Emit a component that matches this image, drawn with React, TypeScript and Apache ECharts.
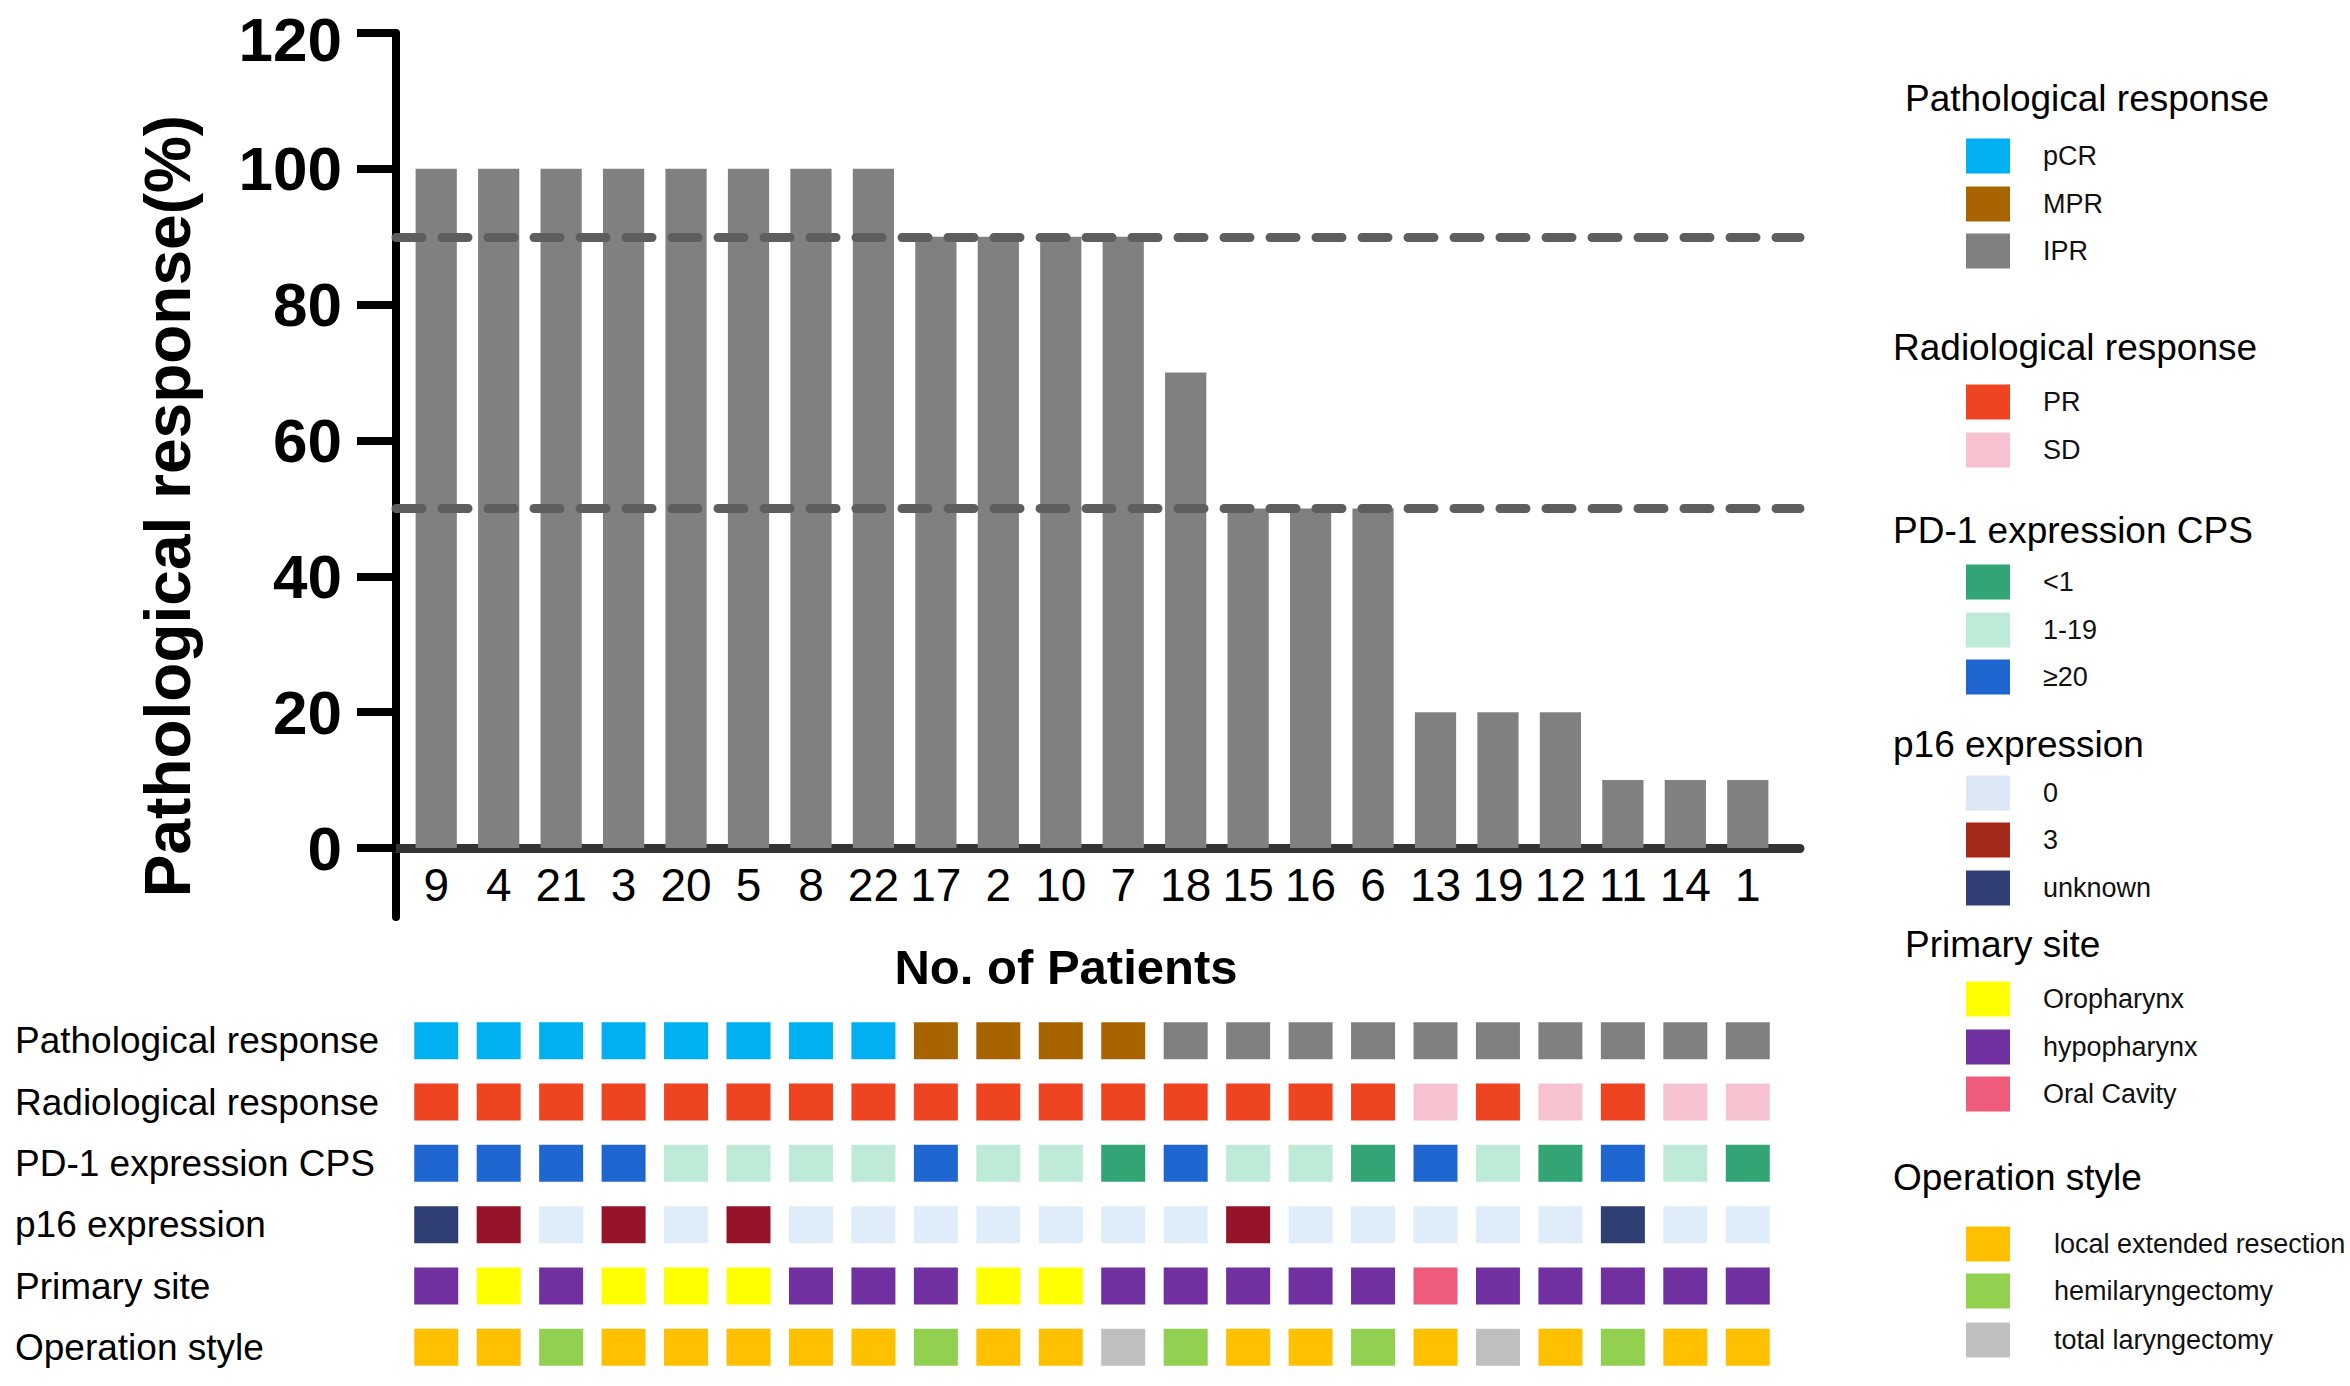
import React, { useEffect, useRef } from "react";
import * as echarts from "echarts";

// ---------- DATA ----------
const patients = ["9", "4", "21", "3", "20", "5", "8", "22", "17", "2", "10", "7", "18", "15", "16", "6", "13", "19", "12", "11", "14", "1"];
const responsePct = [100, 100, 100, 100, 100, 100, 100, 100, 90, 90, 90, 90, 70, 50, 50, 50, 20, 20, 20, 10, 10, 10];
const yAxisMin = 0;
const yAxisMax = 120;
const yAxisInterval = 20;
const thresholdLines = [90, 50];

const annotationRows = [
  "Pathological response",
  "Radiological response",
  "PD-1 expression CPS",
  "p16 expression",
  "Primary site",
  "Operation style",
];

const pathologicalResponse = ["pCR", "pCR", "pCR", "pCR", "pCR", "pCR", "pCR", "pCR", "MPR", "MPR", "MPR", "MPR", "IPR", "IPR", "IPR", "IPR", "IPR", "IPR", "IPR", "IPR", "IPR", "IPR"];
const radiologicalResponse = ["PR", "PR", "PR", "PR", "PR", "PR", "PR", "PR", "PR", "PR", "PR", "PR", "PR", "PR", "PR", "PR", "SD", "PR", "SD", "PR", "SD", "SD"];
const pd1CPS = ["≥20", "≥20", "≥20", "≥20", "1-19", "1-19", "1-19", "1-19", "≥20", "1-19", "1-19", "<1", "≥20", "1-19", "1-19", "<1", "≥20", "1-19", "<1", "≥20", "1-19", "<1"];
const p16Expression = ["unknown", "3", "0", "3", "0", "3", "0", "0", "0", "0", "0", "0", "0", "3", "0", "0", "0", "0", "0", "unknown", "0", "0"];
const primarySite = ["hypopharynx", "Oropharynx", "hypopharynx", "Oropharynx", "Oropharynx", "Oropharynx", "hypopharynx", "hypopharynx", "hypopharynx", "Oropharynx", "Oropharynx", "hypopharynx", "hypopharynx", "hypopharynx", "hypopharynx", "hypopharynx", "Oral Cavity", "hypopharynx", "hypopharynx", "hypopharynx", "hypopharynx", "hypopharynx"];
const operationStyle = ["local extended resection", "local extended resection", "hemilaryngectomy", "local extended resection", "local extended resection", "local extended resection", "local extended resection", "local extended resection", "hemilaryngectomy", "local extended resection", "local extended resection", "total laryngectomy", "hemilaryngectomy", "local extended resection", "local extended resection", "hemilaryngectomy", "local extended resection", "total laryngectomy", "local extended resection", "hemilaryngectomy", "local extended resection", "local extended resection"];

const pathologicalLevels = ["pCR", "MPR", "IPR"];
const radiologicalLevels = ["PR", "SD"];
const pd1Levels = ["<1", "1-19", "≥20"];
const p16Levels = ["0", "3", "unknown"];
const primaryLevels = ["Oropharynx", "hypopharynx", "Oral Cavity"];
const operationLevels = ["local extended resection", "hemilaryngectomy", "total laryngectomy"];

// ---------- STYLE ----------
const pathologicalColors: Record<string, string> = { pCR: "#00B0F0", MPR: "#A86400", IPR: "#808080" };
const radiologicalColors: Record<string, string> = { PR: "#EE4422", SD: "#F7C2CF" };
const pd1Colors: Record<string, string> = { "<1": "#33A474", "1-19": "#BDEBD8", "≥20": "#1F66D1" };
const p16Colors: Record<string, string> = { "0": "#DEEDF9", "3": "#95142A", unknown: "#2F3F74" };
const p16LegendColors: Record<string, string> = { "0": "#DDE7F6", "3": "#A3291B", unknown: "#2F3F74" };
const primaryColors: Record<string, string> = { Oropharynx: "#FFFF00", hypopharynx: "#7030A0", "Oral Cavity": "#EF5B7A" };
const operationColors: Record<string, string> = { "local extended resection": "#FFC000", hemilaryngectomy: "#92D050", "total laryngectomy": "#BFBFBF" };

const FONT = "'Liberation Sans', Arial, Helvetica, sans-serif";

// layout (px)
const W = 2350;
const H = 1386;
const plotLeft = 405;
const plotWidth = 1374;
const plotTop = 33;
const plotHeight = 815;
const yAxisLineX = 396;
const axisRightEnd = 1800;
const yAxisExtendBelow = 69;
const annotTop = 1010;
const annotHeight = 368;
const yTickFont = 62;

const legendLayout = [
  { title: "Pathological response", levels: pathologicalLevels, colors: pathologicalColors, titleX: 1905, titleY: 98, ys: [156, 204, 251], textX: 2043 },
  { title: "Radiological response", levels: radiologicalLevels, colors: radiologicalColors, titleX: 1893, titleY: 347, ys: [402, 450], textX: 2043 },
  { title: "PD-1 expression CPS", levels: pd1Levels, colors: pd1Colors, titleX: 1893, titleY: 530, ys: [582, 630, 677], textX: 2043 },
  { title: "p16 expression", levels: p16Levels, colors: p16LegendColors, titleX: 1893, titleY: 744, ys: [793, 840, 888], textX: 2043 },
  { title: "Primary site", levels: primaryLevels, colors: primaryColors, titleX: 1905, titleY: 944, ys: [999, 1047, 1094], textX: 2043 },
  { title: "Operation style", levels: operationLevels, colors: operationColors, titleX: 1893, titleY: 1177, ys: [1244, 1291, 1340], textX: 2054 },
];

function buildOption() {
  const rowValues = [pathologicalResponse, radiologicalResponse, pd1CPS, p16Expression, primarySite, operationStyle];
  const rowColors = [pathologicalColors, radiologicalColors, pd1Colors, p16Colors, primaryColors, operationColors];
  const cellData: any[] = [];
  rowValues.forEach((row, r) => {
    row.forEach((cat, i) => {
      cellData.push({ name: cat, value: [i, r], itemStyle: { color: rowColors[r][cat], opacity: 1 } });
    });
  });

  const pxPerUnit = plotHeight / (yAxisMax - yAxisMin);
  const extMin = -yAxisExtendBelow / pxPerUnit;

  const graphics: any[] = [];
  legendLayout.forEach((g) => {
    graphics.push({
      type: "text",
      x: g.titleX,
      y: g.titleY,
      style: { text: g.title, fontSize: 37, fontFamily: FONT, fill: "#000", align: "left", verticalAlign: "middle", textAlign: "left", textVerticalAlign: "middle" },
    });
    g.levels.forEach((lv, k) => {
      graphics.push({
        type: "rect",
        shape: { x: 1966, y: g.ys[k] - 17.5, width: 44, height: 35 },
        style: { fill: g.colors[lv] },
      });
      graphics.push({
        type: "text",
        x: g.textX,
        y: g.ys[k],
        style: { text: lv, fontSize: 27, fontFamily: FONT, fill: "#111", align: "left", verticalAlign: "middle", textAlign: "left", textVerticalAlign: "middle" },
      });
    });
  });
  graphics.push({
    type: "text",
    x: 1066,
    y: 967,
    style: { text: "No. of Patients", fontSize: 49, fontWeight: "bold", fontFamily: FONT, fill: "#000", align: "center", verticalAlign: "middle", textAlign: "center", textVerticalAlign: "middle" },
  });
  graphics.push({
    type: "text",
    x: 168,
    y: 506,
    rotation: Math.PI / 2,
    style: { text: "Pathological response(%)", fontSize: 64, fontWeight: "bold", fontFamily: FONT, fill: "#000", align: "center", verticalAlign: "middle", textAlign: "center", textVerticalAlign: "middle" },
  });

  return {
    animation: false,
    backgroundColor: "#ffffff",
    textStyle: { fontFamily: FONT },
    grid: [
      { left: plotLeft, top: plotTop, width: plotWidth, height: plotHeight },
      { left: yAxisLineX, top: plotTop, width: axisRightEnd - yAxisLineX, height: plotHeight + yAxisExtendBelow },
      { left: plotLeft, top: annotTop, width: plotWidth, height: annotHeight },
    ],
    xAxis: [
      {
        type: "category",
        gridIndex: 0,
        data: patients,
        axisLine: { show: false },
        axisTick: { show: false },
        axisLabel: { interval: 0, fontSize: 46, color: "#000", margin: 14, fontFamily: FONT },
      },
      {
        type: "value",
        gridIndex: 1,
        min: 0,
        max: 1,
        axisLine: { show: true, onZero: true, lineStyle: { width: 9, color: "#333333" } },
        axisTick: { show: false },
        axisLabel: { show: false },
        splitLine: { show: false },
      },
      {
        type: "category",
        gridIndex: 2,
        data: patients,
        axisLine: { show: false },
        axisTick: { show: false },
        axisLabel: { show: false },
      },
    ],
    yAxis: [
      {
        type: "value",
        gridIndex: 0,
        min: yAxisMin,
        max: yAxisMax,
        interval: yAxisInterval,
        offset: plotLeft - yAxisLineX,
        axisLine: { show: false },
        axisTick: { show: true, inside: false, length: 39, lineStyle: { width: 8, color: "#000" } },
        axisLabel: {
          fontSize: yTickFont,
          fontWeight: "bold",
          color: "#000",
          margin: 54,
          fontFamily: FONT,
          formatter: (v: number) => (v === yAxisMax ? `{top|${v}}` : `${v}`),
          rich: {
            top: { fontSize: yTickFont, fontWeight: "bold", color: "#000", fontFamily: FONT, padding: [12, 0, 0, 0] },
          },
        },
        splitLine: { show: false },
      },
      {
        type: "value",
        gridIndex: 1,
        min: extMin,
        max: yAxisMax,
        axisLine: { show: true, onZero: false, lineStyle: { width: 8, color: "#000" } },
        axisTick: { show: false },
        axisLabel: { show: false },
        splitLine: { show: false },
      },
      {
        type: "category",
        gridIndex: 2,
        data: annotationRows,
        inverse: true,
        axisLine: { show: false },
        axisTick: { show: false },
        axisLabel: { interval: 0, align: "left", margin: plotLeft - 15, fontSize: 37, color: "#000", fontFamily: FONT },
      },
    ],
    series: [
      {
        type: "bar",
        xAxisIndex: 0,
        yAxisIndex: 0,
        data: responsePct,
        barWidth: "66%",
        itemStyle: { color: "#808080" },
        z: 2,
      },
      {
        type: "line",
        xAxisIndex: 1,
        yAxisIndex: 1,
        data: [[0, 0]],
        showSymbol: false,
        lineStyle: { opacity: 0 },
        z: 3,
        markLine: {
          silent: true,
          symbol: "none",
          label: { show: false },
          lineStyle: { type: [26, 20], width: 9, color: "#5e5e5e", cap: "round" },
          data: thresholdLines.map((v) => ({ yAxis: v })),
        },
      },
      {
        type: "scatter",
        xAxisIndex: 2,
        yAxisIndex: 2,
        symbol: "rect",
        symbolSize: [44, 37],
        itemStyle: { opacity: 1 },
        data: cellData,
      },
    ],
    graphic: graphics,
  };
}

export default function App() {
  const ref = useRef<HTMLDivElement>(null);
  useEffect(() => {
    if (!ref.current) return;
    const chart = echarts.init(ref.current, undefined, { renderer: "svg" });
    chart.setOption(buildOption() as any);
    return () => chart.dispose();
  }, []);
  return (
    <div
      ref={ref}
      style={{ position: "absolute", left: 0, top: 0, width: W, height: H, background: "#fff" }}
    />
  );
}
